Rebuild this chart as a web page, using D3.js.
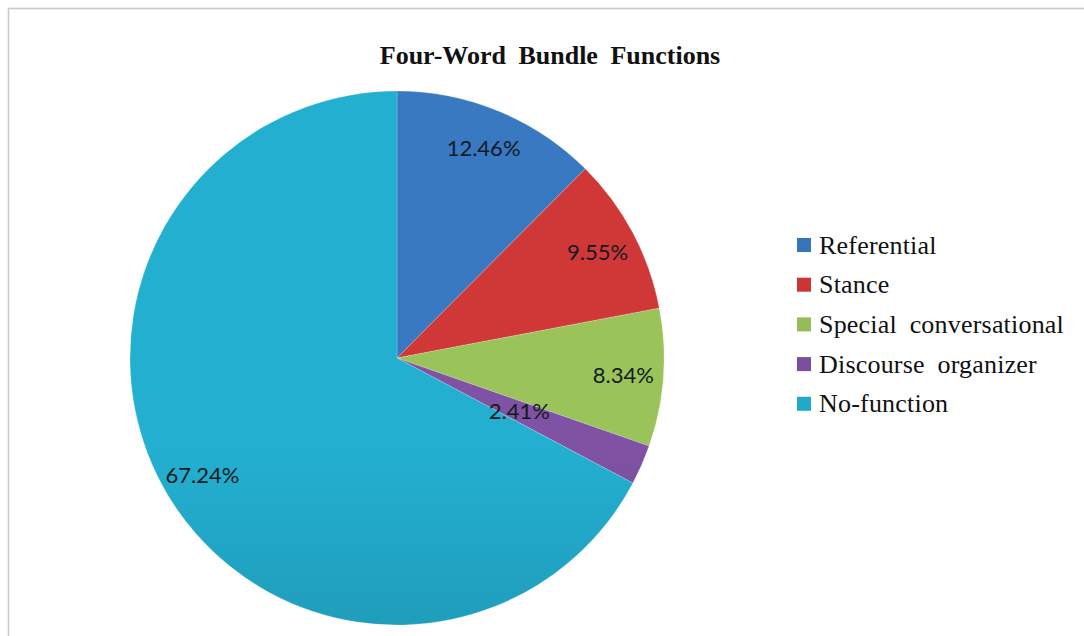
<!DOCTYPE html>
<html>
<head>
<meta charset="utf-8">
<script src="https://cdn.jsdelivr.net/npm/d3@7"></script>
<style>
  html, body { margin: 0; padding: 0; background: #fff; }
  svg { display: block; }
</style>
</head>
<body>
<svg id="chart" width="1084" height="636"></svg>
<script>
// Four-word bundle functions, share of all bundles (%)
const categories = ["Referential", "Stance", "Special conversational", "Discourse organizer", "No-function"];
const shares = [12.46, 9.55, 8.34, 2.41, 67.24];
const labels = ["12.46%", "9.55%", "8.34%", "2.41%", "67.24%"];
const palette = ["#3775ba", "#c93636", "#95bd57", "#7b4f9d", "#22a9c9"];
const titleText = "Four-Word Bundle Functions";

const svg = d3.select("#chart");
const W = 1084, H = 636;

// chart area frame
svg.append("rect")
  .attr("x", 8.5).attr("y", 8.5)
  .attr("width", W + 40).attr("height", H + 40)
  .attr("fill", "#fff")
  .attr("stroke", "#c9c9c9")
  .attr("stroke-width", 1.6);

// title
svg.append("text")
  .attr("x", 550).attr("y", 64)
  .attr("text-anchor", "middle")
  .style("font-family", "'Liberation Serif', 'Times New Roman', serif")
  .style("font-weight", "bold")
  .style("font-size", "26px")
  .style("word-spacing", "6px")
  .attr("fill", "#111")
  .text(titleText);

const cx = 397, cy = 358, R = 267;

// vertical shading over the pie: lighter top, darker bottom
const defs = svg.append("defs");
palette.forEach((c, i) => {
  const g = defs.append("linearGradient")
    .attr("id", "grad" + i)
    .attr("gradientUnits", "userSpaceOnUse")
    .attr("x1", 0).attr("x2", 0)
    .attr("y1", cy - R).attr("y2", cy + R);
  g.append("stop").attr("offset", "0%").attr("stop-color", d3.color(c).brighter(0.1));
  g.append("stop").attr("offset", "100%").attr("stop-color", d3.color(c).darker(0.9));
});

const pie = d3.pie().sort(null).value(d => d);
const arcs = pie(shares);
const arc = d3.arc().innerRadius(0).outerRadius(R);

const g = svg.append("g").attr("transform", `translate(${cx},${cy})`);

g.selectAll("path.slice")
  .data(arcs)
  .join("path")
  .attr("class", "slice")
  .attr("d", arc)
  .attr("fill", (d, i) => `url(#grad${i})`)
  .attr("stroke", "rgba(255,255,255,0.3)")
  .attr("stroke-width", 0.6);

// value labels inside each slice; narrow slices get their label pulled inward
g.selectAll("text.val")
  .data(arcs)
  .join("text")
  .attr("class", "val")
  .attr("transform", d => {
    const frac = (d.endAngle - d.startAngle) / (2 * Math.PI);
    const r = frac < 0.05 ? R * 0.5 : R * 0.85;
    const a = (d.startAngle + d.endAngle) / 2;
    return `translate(${r * Math.sin(a)},${-r * Math.cos(a)})`;
  })
  .attr("text-anchor", "middle")
  .attr("dy", "0.36em")
  .style("font-family", "Lato, 'Noto Sans', sans-serif")
  .style("font-size", "22px")
  .attr("fill", "#131a24")
  .text((d, i) => labels[i]);

// legend
const legend = svg.append("g").attr("transform", "translate(797,245)");
const rowH = 39.7;
const items = legend.selectAll("g.item")
  .data(categories)
  .join("g")
  .attr("class", "item")
  .attr("transform", (d, i) => `translate(0,${i * rowH})`);

items.append("rect")
  .attr("x", 0).attr("y", -7)
  .attr("width", 14).attr("height", 14)
  .attr("fill", (d, i) => palette[i]);

items.append("text")
  .attr("x", 22).attr("y", 0)
  .attr("dy", "0.33em")
  .style("font-family", "'Liberation Serif', 'Times New Roman', serif")
  .style("font-size", "26px")
  .style("letter-spacing", "0.2px")
  .style("word-spacing", "6px")
  .attr("fill", "#111")
  .text(d => d);
</script>
</body>
</html>
